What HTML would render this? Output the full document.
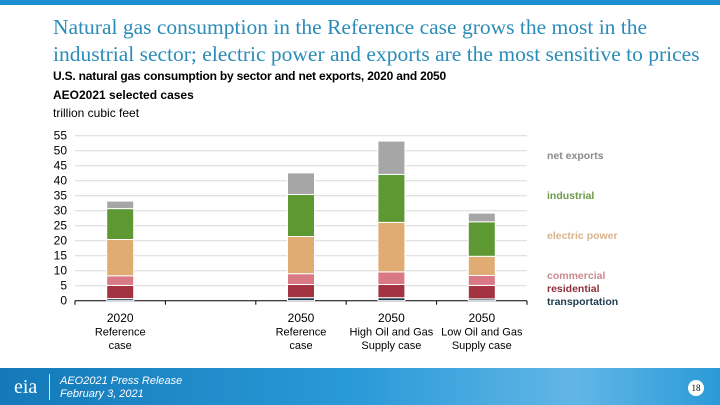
<!DOCTYPE html>
<html><head><meta charset="utf-8"><style>
body{margin:0;width:720px;height:405px;position:relative;overflow:hidden;background:#fff;font-family:"Liberation Sans",sans-serif}
.t{position:absolute;left:53px;top:14px;font-family:"Liberation Serif",serif;font-size:21.5px;line-height:27px;color:#2b8cb8;white-space:nowrap}
.s{position:absolute;left:53px;font-size:12px;color:#000;white-space:nowrap}
</style></head><body>
<div style="position:absolute;left:0;top:0;width:720px;height:5px;background:#1b8fd2"></div>
<div class="t">Natural gas consumption in the Reference case grows the most in the<br>industrial sector; electric power and exports are the most sensitive to prices</div>
<div class="s" style="top:69px;font-weight:bold;letter-spacing:-0.2px">U.S. natural gas consumption by sector and net exports, 2020 and 2050</div>
<div class="s" style="top:88px;font-weight:bold">AEO2021 selected cases</div>
<div class="s" style="top:106px">trillion cubic feet</div>
<svg id="c" width="720" height="405" style="position:absolute;left:0;top:0"></svg>
<div style="position:absolute;left:0;top:368px;width:720px;height:37px;background:linear-gradient(90deg,#1479b8,#2a9ad8 50%,#62b6e6 80%,#2a9ad8)">
<div style="position:absolute;left:14px;top:8px;font-family:'Liberation Serif',serif;font-size:20px;color:#fff">eia</div>
<div style="position:absolute;left:49px;top:6px;width:1px;height:26px;background:#cfe8f7"></div>
<div style="position:absolute;left:60px;top:7px;font-size:11px;font-style:italic;color:#fff;line-height:13px">AEO2021 Press Release<br>February 3, 2021</div>
<div style="position:absolute;left:688px;top:12px;width:16px;height:16px;border-radius:50%;background:#fff;font-size:9px;text-align:center;line-height:16px;font-family:'Liberation Serif',serif">18</div>
</div>
<script>
const categories=["2020|Reference|case","","2050|Reference|case","2050|High Oil and Gas|Supply case","2050|Low Oil and Gas|Supply case"];
const seriesNames=["transportation","residential","commercial","electric power","industrial","net exports"];
const transportation=[0.7,null,1.0,1.0,0.6];
const residential=[4.4,null,4.4,4.4,4.5];
const commercial=[3.2,null,3.6,4.2,3.3];
const electricPower=[12.1,null,12.4,16.5,6.4];
const industrial=[10.3,null,14.0,16.0,11.5];
const netExports=[2.5,null,7.2,11.1,2.9];
const yTicks=[0,5,10,15,20,25,30,35,40,45,50,55];
const colors=["#1d3b4f","#a33341","#d87985","#e1ab74","#5e9833","#a6a6a6"];
const legendColors=["#1d3b4f","#8c2f3a","#c98a90","#d7b48c","#6a9a48","#8a8a8a"];
const svg=document.getElementById('c');const NS="http://www.w3.org/2000/svg";
const x0=75,x1=527,yb=300.7,yt=135.7;
const y=v=>yb-(v/55)*(yb-yt);const slot=(x1-x0)/categories.length;const xc=i=>x0+slot*(i+0.5);
function mk(t,a,txt){const e=document.createElementNS(NS,t);for(const k in a)e.setAttribute(k,a[k]);if(txt!=null)e.textContent=txt;svg.appendChild(e);return e;}
yTicks.forEach(v=>{
const g=mk('line',{x1:x0,x2:x1,y1:y(v),y2:y(v),stroke:v?'#d9d9d9':'#000','stroke-width':1});


const l=mk('text',{x:67,y:y(v)+4,'text-anchor':'end','font-size':12,fill:'#000'},v);


});
for(let i=0;i<=categories.length;i++){const tk=mk('line',{x1:x0+slot*i,x2:x0+slot*i,y1:yb,y2:yb+4,stroke:'#000'});

}
const series=[transportation,residential,commercial,electricPower,industrial,netExports];
categories.forEach((c,i)=>{
if(transportation[i]==null)return;
let cum=0;
series.forEach((s,k)=>{const v=s[i];const r=mk('rect',{x:xc(i)-13.5,width:27,y:y(cum+v),height:y(cum)-y(cum+v),fill:colors[k],stroke:'#fff','stroke-width':1});


cum+=v;});
const parts=c.split('|');
parts.forEach((p,j)=>{const t=mk('text',{x:xc(i),y:322+j*13.5,'text-anchor':'middle','font-size':j?11:12,fill:'#000'},p);

});
});
const legY=[155,195,235,275,288,301];
const legOrder=[5,4,3,2,1,0];
legOrder.forEach((k,j)=>{const t=mk('text',{x:547,y:legY[j]+4,'font-size':10.5,'font-weight':'bold',fill:legendColors[k]},seriesNames[k]);

});
</script>
</body></html>
